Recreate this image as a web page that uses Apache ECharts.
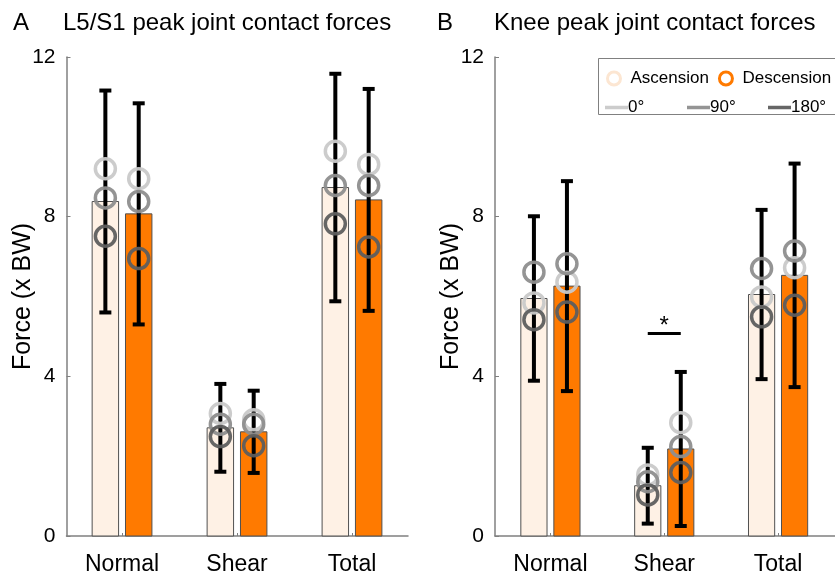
<!DOCTYPE html>
<html><head><meta charset="utf-8">
<script src="https://cdn.jsdelivr.net/npm/echarts@6/dist/echarts.min.js"></script>
<style>html,body{margin:0;padding:0;background:#fff}#c{width:835px;height:577px}</style>
</head><body><div id="c"></div>
<script>
const categories = ['Normal', 'Shear', 'Total'];
const yTicks = [0, 4, 8, 12];
// Panel A: L5/S1 peak joint contact forces (x BW)
const ascMeanA = [8.38, 2.71, 8.73];
const ascSdA = [2.78, 1.10, 2.85];
const descMeanA = [8.07, 2.61, 8.42];
const descSdA = [2.77, 1.03, 2.78];
const ascDeg0A = [9.20, 3.07, 9.64];
const ascDeg90A = [8.47, 2.80, 8.78];
const ascDeg180A = [7.51, 2.49, 7.82];
const descDeg0A = [8.95, 2.91, 9.31];
const descDeg90A = [8.38, 2.80, 8.78];
const descDeg180A = [6.95, 2.26, 7.24];
// Panel B: Knee peak joint contact forces (x BW)
const ascMeanB = [5.95, 1.26, 6.05];
const ascSdB = [2.06, 0.95, 2.12];
const descMeanB = [6.26, 2.18, 6.53];
const descSdB = [2.63, 1.93, 2.80];
const ascDeg0B = [5.84, 1.53, 5.99];
const ascDeg90B = [6.61, 1.36, 6.70];
const ascDeg180B = [5.42, 1.03, 5.49];
const descDeg0B = [6.36, 2.84, 6.72];
const descDeg90B = [6.82, 2.24, 7.14];
const descDeg180B = [5.61, 1.59, 5.78];
// significance marker (panel B)
const sigCategoryB = 'Shear';
const sigYB = 5.07;
const sigTextB = '*';

const FONT = 'Liberation Sans, Arial, Helvetica, sans-serif';
const OFF = 0.145, BAR_W = 0.23;
const ASC_COLOR = '#FEF1E5', DESC_COLOR = '#FF7A00';
const DEG_COLORS = {'0°': '#C9C9C9', '90°': '#8E8E8E', '180°': '#5E5E5E'};
const xs = categories.map((c, i) => i + 1);

function barRender(params, api) {
  const x = api.value(0), y = api.value(1);
  const p1 = api.coord([x - BAR_W / 2, y]);
  const p2 = api.coord([x + BAR_W / 2, 0]);
  return {type: 'rect', shape: {x: p1[0], y: p1[1], width: p2[0] - p1[0], height: p2[1] - p1[1]},
    style: {fill: api.visual('color'), stroke: '#505050', lineWidth: 1}};
}
function errRender(params, api) {
  const x = api.value(0), m = api.value(1), s = api.value(2);
  const t = api.coord([x, m + s]), b = api.coord([x, m - s]);
  const cap = 6, st = {stroke: '#000', lineWidth: 4};
  return {type: 'group', children: [
    {type: 'line', shape: {x1: t[0], y1: t[1], x2: b[0], y2: b[1]}, style: st},
    {type: 'line', shape: {x1: t[0] - cap, y1: t[1], x2: t[0] + cap, y2: t[1]}, style: st},
    {type: 'line', shape: {x1: b[0] - cap, y1: b[1], x2: b[0] + cap, y2: b[1]}, style: st}
  ]};
}
function sigRender(params, api) {
  const x = api.value(0), y = api.value(1);
  const a = api.coord([x - OFF, y]), b = api.coord([x + OFF, y]);
  return {type: 'group', children: [
    {type: 'line', shape: {x1: a[0], y1: a[1], x2: b[0], y2: b[1]}, style: {stroke: '#000', lineWidth: 3}},
    {type: 'text', style: {text: sigTextB, x: (a[0] + b[0]) / 2, y: a[1] + 5, align: 'center', verticalAlign: 'bottom',
      fontSize: 24, fontFamily: FONT, fill: '#000'}}
  ]};
}

function panelSeries(gi, ascMean, ascSd, descMean, descSd, asc0, asc90, asc180, desc0, desc90, desc180) {
  const s = [];
  s.push({type: 'custom', name: 'Ascension', xAxisIndex: gi, yAxisIndex: gi, z: 2, renderItem: barRender,
    itemStyle: {color: ASC_COLOR}, encode: {x: 0, y: 1},
    data: xs.map((x, i) => [x - OFF, ascMean[i]])});
  s.push({type: 'custom', name: 'Descension', xAxisIndex: gi, yAxisIndex: gi, z: 2, renderItem: barRender,
    itemStyle: {color: DESC_COLOR}, encode: {x: 0, y: 1},
    data: xs.map((x, i) => [x + OFF, descMean[i]])});
  s.push({type: 'custom', name: 'err', xAxisIndex: gi, yAxisIndex: gi, z: 3, renderItem: errRender,
    encode: {x: 0, y: 1},
    data: xs.map((x, i) => [x - OFF, ascMean[i], ascSd[i]]).concat(xs.map((x, i) => [x + OFF, descMean[i], descSd[i]]))});
  const degs = [['0°', asc0, desc0], ['90°', asc90, desc90], ['180°', asc180, desc180]];
  degs.forEach(([name, a, d]) => {
    s.push({type: 'scatter', name: name, xAxisIndex: gi, yAxisIndex: gi, z: 4, symbol: 'circle', symbolSize: 20,
      itemStyle: {color: 'rgba(0,0,0,0)', borderColor: DEG_COLORS[name], borderWidth: 3.5, opacity: 0.95},
      emphasis: {disabled: true},
      data: xs.map((x, i) => [x - OFF, a[i]]).concat(xs.map((x, i) => [x + OFF, d[i]]))});
  });
  return s;
}

const series = []
  .concat(panelSeries(0, ascMeanA, ascSdA, descMeanA, descSdA, ascDeg0A, ascDeg90A, ascDeg180A, descDeg0A, descDeg90A, descDeg180A))
  .concat(panelSeries(1, ascMeanB, ascSdB, descMeanB, descSdB, ascDeg0B, ascDeg90B, ascDeg180B, descDeg0B, descDeg90B, descDeg180B));
series.push({type: 'custom', name: 'sig', xAxisIndex: 1, yAxisIndex: 1, z: 5, renderItem: sigRender, encode: {x: 0, y: 1},
  data: [[categories.indexOf(sigCategoryB) + 1, sigYB]]});

function xAxisDef(gi, min, max) {
  return {type: 'value', gridIndex: gi, min: min, max: max,
    axisLine: {show: true, lineStyle: {color: '#808080', width: 1.5}},
    axisTick: {show: true, inside: true, length: 3, customValues: xs, lineStyle: {color: '#808080'}},
    splitLine: {show: false},
    axisLabel: {customValues: xs, formatter: v => categories[Math.round(v) - 1] || '', fontSize: 23, color: '#000',
      fontFamily: FONT, margin: 17}};
}
function yAxisDef(gi) {
  return {type: 'value', gridIndex: gi, min: 0, max: 12, interval: 4,
    name: 'Force (x BW)', nameLocation: 'middle', nameGap: 31, nameMoveOverlap: false,
    nameTextStyle: {fontSize: 25, color: '#000', fontFamily: FONT},
    axisLine: {show: true, lineStyle: {color: '#808080', width: 1.5}},
    axisTick: {show: true, inside: true, length: 4, lineStyle: {color: '#808080'}},
    splitLine: {show: false},
    axisLabel: {fontSize: 21, color: '#000', fontFamily: FONT, margin: 11,
      formatter: v => yTicks.indexOf(v) >= 0 ? String(v) : ''}};
}

const titleStyle = {fontSize: 24, fontWeight: 'normal', color: '#000', fontFamily: FONT};
const legText = {fontSize: 17, color: '#000', fontFamily: FONT, padding: [0, 0, 0, -5]};
function degLegend(name, left) {
  return {left: left, top: 99, padding: 0, itemWidth: 23, itemHeight: 3.5, selectedMode: false, z: 20,
    textStyle: legText, data: [{name: name, icon: 'rect', itemStyle: {color: DEG_COLORS[name], borderWidth: 0}}]};
}
const option = {
  animation: false,
  backgroundColor: '#fff',
  title: [
    {text: 'A', left: 13, top: 11, padding: 0, textStyle: titleStyle},
    {text: 'L5/S1 peak joint contact forces', left: 63, top: 11, padding: 0, textStyle: titleStyle},
    {text: 'B', left: 437, top: 11, padding: 0, textStyle: titleStyle},
    {text: 'Knee peak joint contact forces', left: 494, top: 11, padding: 0, textStyle: titleStyle}
  ],
  grid: [
    {left: 66.5, top: 57, width: 341.5, bottom: 41},
    {left: 495, top: 57, width: 343.5, bottom: 41}
  ],
  xAxis: [xAxisDef(0, 0.517, 3.487), xAxisDef(1, 0.513, 3.5)],
  yAxis: [yAxisDef(0), yAxisDef(1)],
  graphic: [{type: 'rect', left: 598, top: 58, shape: {width: 240, height: 56},
    style: {fill: '#fff', stroke: '#808080', lineWidth: 1}, z: 10}],
  legend: [
    {left: 606, top: 70, padding: 0, itemGap: 9, itemWidth: 13, itemHeight: 13, selectedMode: false, z: 20,
      textStyle: {fontSize: 17, color: '#000', fontFamily: FONT, padding: [0, 0, 0, 5]},
      data: [
        {name: 'Ascension', icon: 'circle', itemStyle: {color: '#fff', borderColor: '#FCE6D2', borderWidth: 3}},
        {name: 'Descension', icon: 'circle', itemStyle: {color: '#fff', borderColor: DESC_COLOR, borderWidth: 3}}
      ]},
    degLegend('0°', 605),
    degLegend('90°', 687),
    degLegend('180°', 768)
  ],
  series: series
};
const chart = echarts.init(document.getElementById('c'), null, {renderer: 'canvas'});
chart.setOption(option);
</script>
</body></html>
